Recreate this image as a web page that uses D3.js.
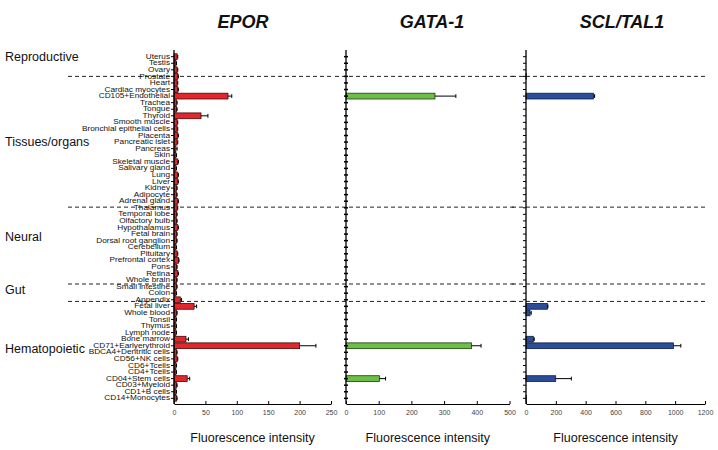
<!DOCTYPE html>
<html><head><meta charset="utf-8">
<script src="https://cdn.jsdelivr.net/npm/d3@7"></script>
<style>body{margin:0;background:#fff;} svg{display:block;font-family:Arial, "Liberation Sans", sans-serif;}</style>
</head><body>
<svg id="chart" width="718" height="450"></svg>
<script>
const categories = ["Uterus","Testis","Ovary","Prostate","Heart","Cardiac myocytes","CD105+Endothelial","Trachea","Tongue","Thyroid","Smooth muscle","Bronchial epithelial cells","Placenta","Pancreatic islet","Pancreas","Skin","Skeletal muscle","Salivary gland","Lung","Liver","Kidney","Adipocyte","Adrenal gland","Thalamus","Temporal lobe","Olfactory bulb","Hypothalamus","Fetal brain","Dorsal root ganglion","Cerebellum","Pituitary","Prefrontal cortex","Pons","Retina","Whole brain","Small intestine","Colon","Appendix","Fetal liver","Whole blood","Tonsil","Thymus","Lymph node","Bone marrow","CD71+Earlyerythroid","BDCA4+Dentritic cells","CD56+NK cells","CD6+Tcells","CD4+Tcells","CD04+Stem cells","CD03+Myeloid","CD1+B cells","CD14+Monocytes"];

const eporValues = [5,3,5,6,5,6,86,4,4,43,5,5,6,5,3,3,6,3,6,6,4,4,6,5,4,4,6,4,4,3,5,7,4,6,4,4,3,10,32,4,3,3,3,19,200,4,5,3,3,21,4,3,4];
const eporErrors = [1,1,1,1,1,1,6,1,1,11,1,1,1,1,2,1,1,1,1,1,1,1,1,1,1,1,1,1,1,1,1,1,1,1,1,1,1,2,4,1,1,1,1,4,26,1,1,1,1,4,1,1,1];

const gataValues = [0,0,0,0,0,0,272,0,0,0,0,0,0,0,0,0,0,0,0,0,0,0,0,0,0,0,0,0,0,0,0,0,0,0,0,0,0,0,0,0,0,0,0,0,384,0,0,0,0,102,0,0,0];
const gataErrors = [0,0,0,0,0,0,64,0,0,0,0,0,0,0,0,0,0,0,0,0,0,0,0,0,0,0,0,0,0,0,0,0,0,0,0,0,0,0,0,0,0,0,0,0,29,0,0,0,0,19,0,0,0];

const sclValues = [0,0,0,2,0,0,452,0,0,0,0,0,0,0,0,0,0,0,0,0,0,0,0,0,0,0,0,0,0,0,0,0,0,0,0,0,0,0,143,27,0,0,0,49,988,0,0,0,0,199,0,0,2];
const sclErrors = [0,0,0,0,0,0,8,0,0,0,0,0,0,0,0,0,0,0,0,0,0,0,0,0,0,0,0,0,0,0,0,0,0,0,0,0,0,0,4,8,0,0,0,6,50,0,0,0,0,105,0,0,0];

const groups = ["Reproductive","Tissues/organs","Neural","Gut","Hematopoietic"];
const groupLabelAt = [0, 13, 27.5, 35.5, 44.5];
const separators = [3, 22.9, 34.6, 37.25];

const titles = ["EPOR","GATA-1","SCL/TAL1"];
const xMax = [250, 500, 1200];
const xTicks = [[0,50,100,150,200,250],[0,100,200,300,400,500],[0,200,400,600,800,1000,1200]];
const colors = ["#e3262b","#6cbf46","#2c4d9a"];
const strokes = ["#3b0a0a","#1d3a10","#0e1c40"];
const xLabel = "Fluorescence intensity";

const svg = d3.select("#chart");
const y = d3.scaleBand().domain(categories).range([53, 402]).padding(0.12);
const idx = d3.scaleLinear().domain([0, categories.length - 1]).range([y("Uterus") + y.bandwidth()/2, y("CD14+Monocytes") + y.bandwidth()/2]);

const panels = [
  {x0:174, x1:331, values:eporValues, errors:eporErrors, sepL:68, sepR:333, labels:true},
  {x0:346, x1:509.5, values:gataValues, errors:gataErrors, sepL:335, sepR:514, labels:false},
  {x0:526, x1:705, values:sclValues, errors:sclErrors, sepL:512, sepR:706, labels:false}
];

svg.append("g").selectAll("text").data(groups).join("text")
  .attr("x", 5).attr("y", (d,i) => idx(groupLabelAt[i]) + 4)
  .attr("font-size", 12.5).attr("fill", "#111").text(d => d);

panels.forEach((p, pi) => {
  const x = d3.scaleLinear().domain([0, xMax[pi]]).range([p.x0, p.x1]);
  const g = svg.append("g");

  g.selectAll("line.sep").data(separators).join("line")
    .attr("class","sep")
    .attr("x1", p.sepL).attr("x2", p.sepR)
    .attr("y1", d => idx(d)).attr("y2", d => idx(d))
    .attr("stroke", "#222").attr("stroke-width", 1).attr("stroke-dasharray", "4,3");

  const data = categories.map((c,i) => ({c, v:p.values[i], e:p.errors[i]}));
  g.selectAll("rect").data(data.filter(d => d.v > 0)).join("rect")
    .attr("x", x(0)).attr("y", d => y(d.c))
    .attr("width", d => x(d.v) - x(0)).attr("height", y.bandwidth())
    .attr("fill", colors[pi]).attr("stroke", strokes[pi]).attr("stroke-width", 0.8);

  const eb = data.filter(d => d.e > 0);
  g.selectAll("line.err").data(eb).join("line").attr("class","err")
    .attr("x1", d => x(d.v)).attr("x2", d => x(d.v + d.e))
    .attr("y1", d => y(d.c) + y.bandwidth()/2).attr("y2", d => y(d.c) + y.bandwidth()/2)
    .attr("stroke", "#000").attr("stroke-width", 1);
  g.selectAll("line.cap").data(eb).join("line").attr("class","cap")
    .attr("x1", d => x(d.v + d.e)).attr("x2", d => x(d.v + d.e))
    .attr("y1", d => y(d.c) + 1).attr("y2", d => y(d.c) + y.bandwidth() - 1)
    .attr("stroke", "#000").attr("stroke-width", 1);

  const ax = d3.axisLeft(y).tickSizeOuter(0).tickSizeInner(pi === 1 ? 2 : 3);
  const ag = g.append("g").attr("transform", `translate(${x(0)},0)`).call(ax);
  ag.select(".domain").attr("d", `M0,50V404`).attr("stroke", "#000").attr("stroke-width", 1.3);
  ag.selectAll(".tick line").attr("stroke", "#000");
  if (pi === 1) ag.selectAll(".tick line").attr("x1", 2).attr("x2", -2).attr("stroke-width", 1.5);
  if (p.labels) {
    const sx = 1.25;
    ag.selectAll(".tick text").attr("font-size", 6.6)
      .attr("font-family", "Arial, 'Liberation Sans', sans-serif").attr("fill", "#111")
      .attr("x", -4 / sx).attr("transform", `scale(${sx},1)`);
  } else {
    ag.selectAll(".tick text").remove();
  }

  const bx = d3.axisBottom(x).tickValues(xTicks[pi]).tickFormat(d3.format("d")).tickSizeOuter(0).tickSizeInner(-3).tickPadding(6);
  const bg = g.append("g").attr("transform", "translate(0,404)").call(bx);
  bg.select(".domain").attr("stroke", "#000");
  bg.selectAll(".tick text").attr("font-size", 7).attr("fill", "#444").attr("font-family", "Arial, 'Liberation Sans', sans-serif");

  g.append("text").attr("x", (p.x0 + p.x1)/2).attr("y", 442).attr("text-anchor", "middle")
    .attr("font-size", 12.5).attr("fill", "#111").text(xLabel);

  g.append("text").attr("x", [243, 432, 622][pi]).attr("y", 28).attr("text-anchor", "middle")
    .attr("font-size", 18).attr("font-weight", "bold").attr("font-style", "italic").attr("fill", "#111").text(titles[pi]);
});
</script>
</body></html>
